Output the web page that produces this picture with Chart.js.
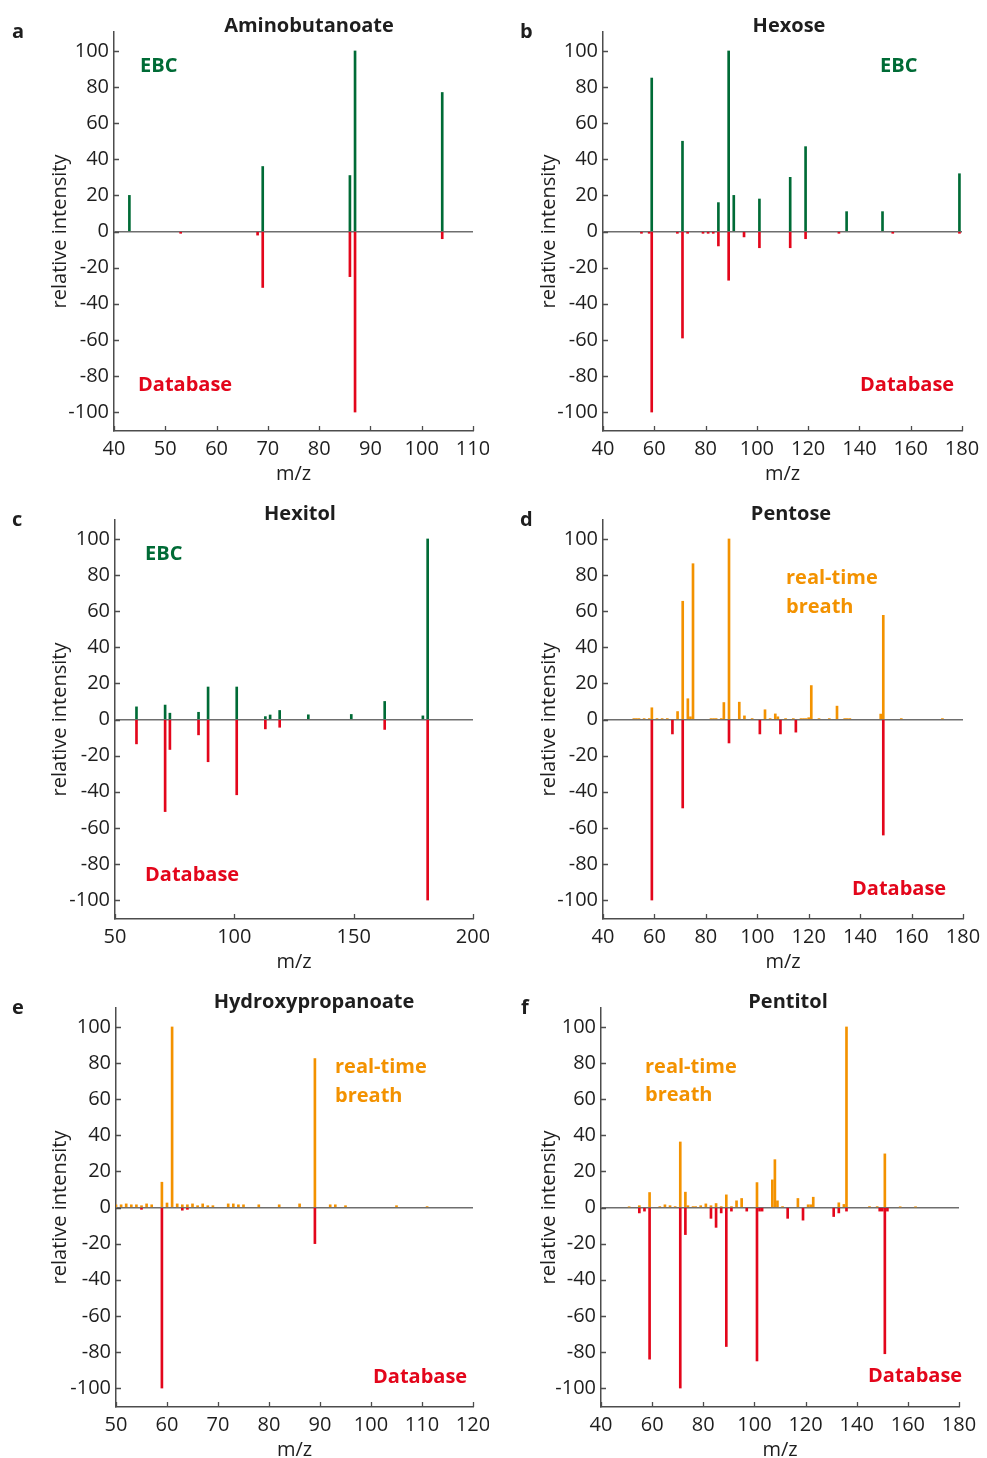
<!DOCTYPE html>
<html><head><meta charset="utf-8">
<script src="https://cdn.jsdelivr.net/npm/chart.js@4.4.1/dist/chart.umd.min.js"></script>
<style>
html,body{margin:0;padding:0;background:#fff;}
body{width:987px;height:1458px;overflow:hidden;position:relative;font-family:"Open Sans",sans-serif;}
canvas.pan{position:absolute;}
.txt{position:absolute;line-height:1;white-space:nowrap;font-weight:700;font-size:20px;font-family:"Open Sans",sans-serif;}
</style></head><body>
<script>
// ---------------- DATA ----------------
// Panel a: Aminobutanoate
const aEbcMz = [43, 69, 86, 87, 104];
const aEbcInt = [20, 36, 31, 100, 77];
const aDbMz = [53, 68, 69, 86, 87, 104];
const aDbInt = [-1, -2, -31, -25, -100, -4];
const aXTicks = [40, 50, 60, 70, 80, 90, 100, 110];

// Panel b: Hexose
const bEbcMz = [59, 71, 85, 89, 91, 101, 113, 119, 135, 149, 179];
const bEbcInt = [85, 50, 16, 100, 20, 18, 30, 47, 11, 11, 32];
const bDbMz = [55, 58, 59, 69, 71, 73, 79, 81, 83, 85, 89, 95, 101, 113, 119, 132, 153, 179];
const bDbInt = [-1, -1, -100, -1, -59, -1, -1, -1, -1, -8, -27, -3, -9, -9, -4, -1, -1, -1];
const bXTicks = [40, 60, 80, 100, 120, 140, 160, 180];

// Panel c: Hexitol
const cEbcMz = [59, 71, 73, 85, 89, 101, 113, 115, 119, 131, 149, 163, 179, 181];
const cEbcInt = [7, 8, 3.5, 4, 18, 18, 1.6, 2.5, 5, 2.6, 2.8, 10, 2, 100];
const cDbMz = [59, 71, 73, 85, 89, 101, 113, 119, 163, 181];
const cDbInt = [-13.5, -51, -16.6, -8.5, -23.4, -41.7, -5.2, -4.3, -5.5, -100];
const cXTicks = [50, 100, 150, 200];

// Panel d: Pentose
const dBrMz = [52, 53, 54, 56, 58, 59, 61, 63, 65, 69, 71, 73, 74, 75, 82, 83, 84, 86, 87, 89, 93, 95, 98, 103, 105, 107, 108, 111, 114, 117, 118, 119, 120, 121, 124, 128, 131, 134, 135, 136, 148, 149, 156, 172];
const dBrInt = [0.5, 0.5, 0.5, 0.5, 0.5, 6.5, 0.5, 0.5, 0.5, 4.4, 65.5, 11.5, 1.5, 86.3, 0.5, 0.5, 0.5, 0.5, 9.4, 100, 9.6, 2, 0.5, 5.4, 0.5, 3.1, 1.5, 0.5, 0.5, 0.5, 0.5, 0.5, 1, 18.8, 0.5, 0.5, 7.4, 0.5, 0.5, 0.5, 3, 57.7, 0.5, 0.5];
const dDbMz = [59, 67, 71, 89, 101, 109, 115, 149];
const dDbInt = [-100, -8, -49, -13, -8, -8, -7, -64];
const dXTicks = [40, 60, 80, 100, 120, 140, 160, 180];

// Panel e: Hydroxypropanoate
const eBrMz = [50, 51, 52, 53, 54, 55, 56, 57, 59, 60, 61, 62, 63, 64, 65, 66, 67, 68, 69, 72, 73, 74, 75, 78, 82, 86, 89, 92, 93, 95, 105, 111];
const eBrInt = [1.5, 1.5, 2, 1.5, 1.5, 1, 2, 1.5, 14, 2.5, 100, 2, 1.5, 1.5, 2, 1, 2, 1, 1, 2, 2, 1.5, 1.5, 1.5, 1.5, 2, 82.5, 1.5, 1.5, 1, 1, 0.5];
const eDbMz = [55, 59, 63, 64, 89];
const eDbInt = [-1, -100, -1.5, -1, -20];
const eXTicks = [50, 60, 70, 80, 90, 100, 110, 120];

// Panel f: Pentitol
const fBrMz = [51, 55, 59, 63, 65, 67, 69, 71, 73, 74, 76, 77, 79, 81, 83, 85, 87, 89, 91, 93, 95, 101, 107, 108, 109, 111, 117, 121, 122, 123, 133, 135, 136, 145, 148, 151, 157, 163];
const fBrInt = [0.3, 1, 8.3, 0.5, 1.5, 1, 0.5, 36.3, 8.5, 1, 0.5, 0.5, 1, 2, 1, 2.2, 0.5, 7, 0.5, 3.7, 5, 13.8, 15.3, 26.5, 3.7, 0.5, 5, 1.5, 1.5, 5.7, 2.6, 1.7, 100, 0.5, 0.5, 29.7, 0.3, 0.3];
const fDbMz = [55, 57, 59, 71, 73, 83, 85, 87, 89, 91, 97, 101, 102, 103, 113, 119, 131, 133, 136, 149, 150, 151, 152];
const fDbInt = [-3, -2, -84, -100, -15, -6, -11, -3, -77, -2, -2, -85, -2, -2, -6, -7, -5, -3, -2, -2, -2, -81, -2];
const fXTicks = [40, 60, 80, 100, 120, 140, 160, 180];

const yTicks = [-100, -80, -60, -40, -20, 0, 20, 40, 60, 80, 100];

// ---------------- STYLE / LAYOUT ----------------
const GREEN = '#006b36', RED = '#e3061b', ORANGE = '#f39200';
const AXIS = '#4d4d4d', ZERO = '#6e6e6e', TXT = '#1e1e1e';
const FONT = '"Open Sans", sans-serif';

const panels = [
  {ox: 0,   oy: 0,   w: 489, left: 114, right: 473, xr: [40, 110], xt: aXTicks, pos: [aEbcMz, aEbcInt], neg: [aDbMz, aDbInt], pc: GREEN},
  {ox: 489, oy: 0,   w: 498, left: 114, right: 473, xr: [40, 180], xt: bXTicks, pos: [bEbcMz, bEbcInt], neg: [bDbMz, bDbInt], pc: GREEN},
  {ox: 0,   oy: 488, w: 489, left: 115, right: 473, xr: [50, 200], xt: cXTicks, pos: [cEbcMz, cEbcInt], neg: [cDbMz, cDbInt], pc: GREEN},
  {ox: 489, oy: 488, w: 498, left: 114, right: 474, xr: [40, 180], xt: dXTicks, pos: [dBrMz, dBrInt], neg: [dDbMz, dDbInt], pc: ORANGE},
  {ox: 0,   oy: 976, w: 489, left: 116, right: 473, xr: [50, 120], xt: eXTicks, pos: [eBrMz, eBrInt], neg: [eDbMz, eDbInt], pc: ORANGE},
  {ox: 489, oy: 976, w: 498, left: 112, right: 470, xr: [40, 180], xt: fXTicks, pos: [fBrMz, fBrInt], neg: [fDbMz, fDbInt], pc: ORANGE}
];
const H = 488, TOP = 32, XH = 57;

const inwardTicks = {
  id: 'inwardTicks',
  afterDraw(chart) {
    const {ctx, chartArea: a, scales: {x, y}} = chart;
    ctx.save();
    ctx.strokeStyle = AXIS; ctx.lineWidth = 1.3;
    ctx.beginPath();
    x.ticks.forEach(t => { const p = Math.round(x.getPixelForValue(t.value)) + 0.5; ctx.moveTo(p, a.bottom); ctx.lineTo(p, a.bottom - 5); });
    y.ticks.forEach(t => { const p = Math.round(y.getPixelForValue(t.value)) + 0.5; ctx.moveTo(a.left, p); ctx.lineTo(a.left + 5, p); });
    ctx.stroke();
    ctx.restore();
  }
};

const pts = (mz, v) => mz.map((m, i) => ({x: m, y: v[i]}));

panels.forEach(p => {
  const cv = document.createElement('canvas');
  cv.className = 'pan';
  cv.width = p.w; cv.height = H;
  cv.style.left = p.ox + 'px'; cv.style.top = p.oy + 'px';
  cv.style.width = p.w + 'px'; cv.style.height = H + 'px';
  document.body.appendChild(cv);
  new Chart(cv, {
    type: 'bar',
    data: {
      datasets: [
        {data: pts(p.pos[0], p.pos[1]), backgroundColor: p.pc, barThickness: 2, grouped: false},
        {data: pts(p.neg[0], p.neg[1]), backgroundColor: RED, barThickness: 2, grouped: false}
      ]
    },
    options: {
      responsive: false, animation: false, devicePixelRatio: 1,
      layout: {padding: {top: TOP, left: 0, bottom: 0, right: p.w - p.right}},
      plugins: {legend: {display: false}, tooltip: {enabled: false}},
      scales: {
        x: {
          type: 'linear', min: p.xr[0], max: p.xr[1], offset: false,
          afterBuildTicks: s => { s.ticks = p.xt.map(v => ({value: v})); },
          afterFit: s => { s.height = XH; s.paddingLeft = 0; s.paddingRight = 0; },
          grid: {display: true, drawOnChartArea: false, drawTicks: false, offset: false},
          border: {display: true, color: AXIS, width: 1.5},
          ticks: {autoSkip: false, maxRotation: 0, minRotation: 0, padding: 6, color: TXT, font: {family: FONT, size: 20}},
          title: {display: true, text: 'm/z', color: TXT, font: {family: FONT, size: 20}, padding: {top: 0, bottom: 2}}
        },
        y: {
          type: 'linear', min: -110.5, max: 110.5,
          afterBuildTicks: s => { s.ticks = yTicks.map(v => ({value: v})); },
          afterFit: s => { s.width = p.left; s.paddingTop = 0; s.paddingBottom = 0; },
          grid: {drawOnChartArea: true, drawTicks: false, lineWidth: 1.5,
                 color: c => (c.tick && c.tick.value === 0) ? ZERO : 'rgba(0,0,0,0)'},
          border: {display: true, color: AXIS, width: 1.5},
          ticks: {padding: 5, color: TXT, font: {family: FONT, size: 20}},
          title: {display: true, text: 'relative intensity', color: TXT, font: {family: FONT, size: 20}, padding: {top: 48, bottom: 0}}
        }
      }
    },
    plugins: [inwardTicks]
  });
});

// ---------------- TEXT LABELS ----------------
const texts = [
  // panel letters
  {t: 'a', x: 12, b: 39, c: TXT}, {t: 'b', x: 520, b: 39, c: TXT},
  {t: 'c', x: 12, b: 527, c: TXT}, {t: 'd', x: 520, b: 527, c: TXT},
  {t: 'e', x: 12, b: 1015, c: TXT}, {t: 'f', x: 521, b: 1015, c: TXT},
  // titles (centered)
  {t: 'Aminobutanoate', x: 309, b: 33, c: TXT, center: true},
  {t: 'Hexose', x: 789, b: 33, c: TXT, center: true},
  {t: 'Hexitol', x: 300, b: 521, c: TXT, center: true},
  {t: 'Pentose', x: 791, b: 521, c: TXT, center: true},
  {t: 'Hydroxypropanoate', x: 314, b: 1009, c: TXT, center: true},
  {t: 'Pentitol', x: 788, b: 1009, c: TXT, center: true},
  // annotations
  {t: 'EBC', x: 140, b: 73, c: GREEN}, {t: 'Database', x: 138, b: 391.5, c: RED},
  {t: 'EBC', x: 880, b: 73, c: GREEN}, {t: 'Database', x: 860, b: 391.5, c: RED},
  {t: 'EBC', x: 145, b: 561, c: GREEN}, {t: 'Database', x: 145, b: 881.5, c: RED},
  {t: 'real-time', x: 786, b: 585, c: ORANGE}, {t: 'breath', x: 786, b: 613.5, c: ORANGE}, {t: 'Database', x: 852, b: 895.5, c: RED},
  {t: 'real-time', x: 335, b: 1074, c: ORANGE}, {t: 'breath', x: 335, b: 1102.5, c: ORANGE}, {t: 'Database', x: 373, b: 1384, c: RED},
  {t: 'real-time', x: 645, b: 1073.5, c: ORANGE}, {t: 'breath', x: 645, b: 1101.5, c: ORANGE}, {t: 'Database', x: 868, b: 1383, c: RED}
];
texts.forEach(o => {
  const d = document.createElement('div');
  d.className = 'txt';
  d.textContent = o.t;
  d.style.color = o.c;
  d.style.top = (o.b - 17.8) + 'px';
  d.style.left = o.x + 'px';
  if (o.center) d.style.transform = 'translateX(-50%)';
  document.body.appendChild(d);
});
</script>
</body></html>
